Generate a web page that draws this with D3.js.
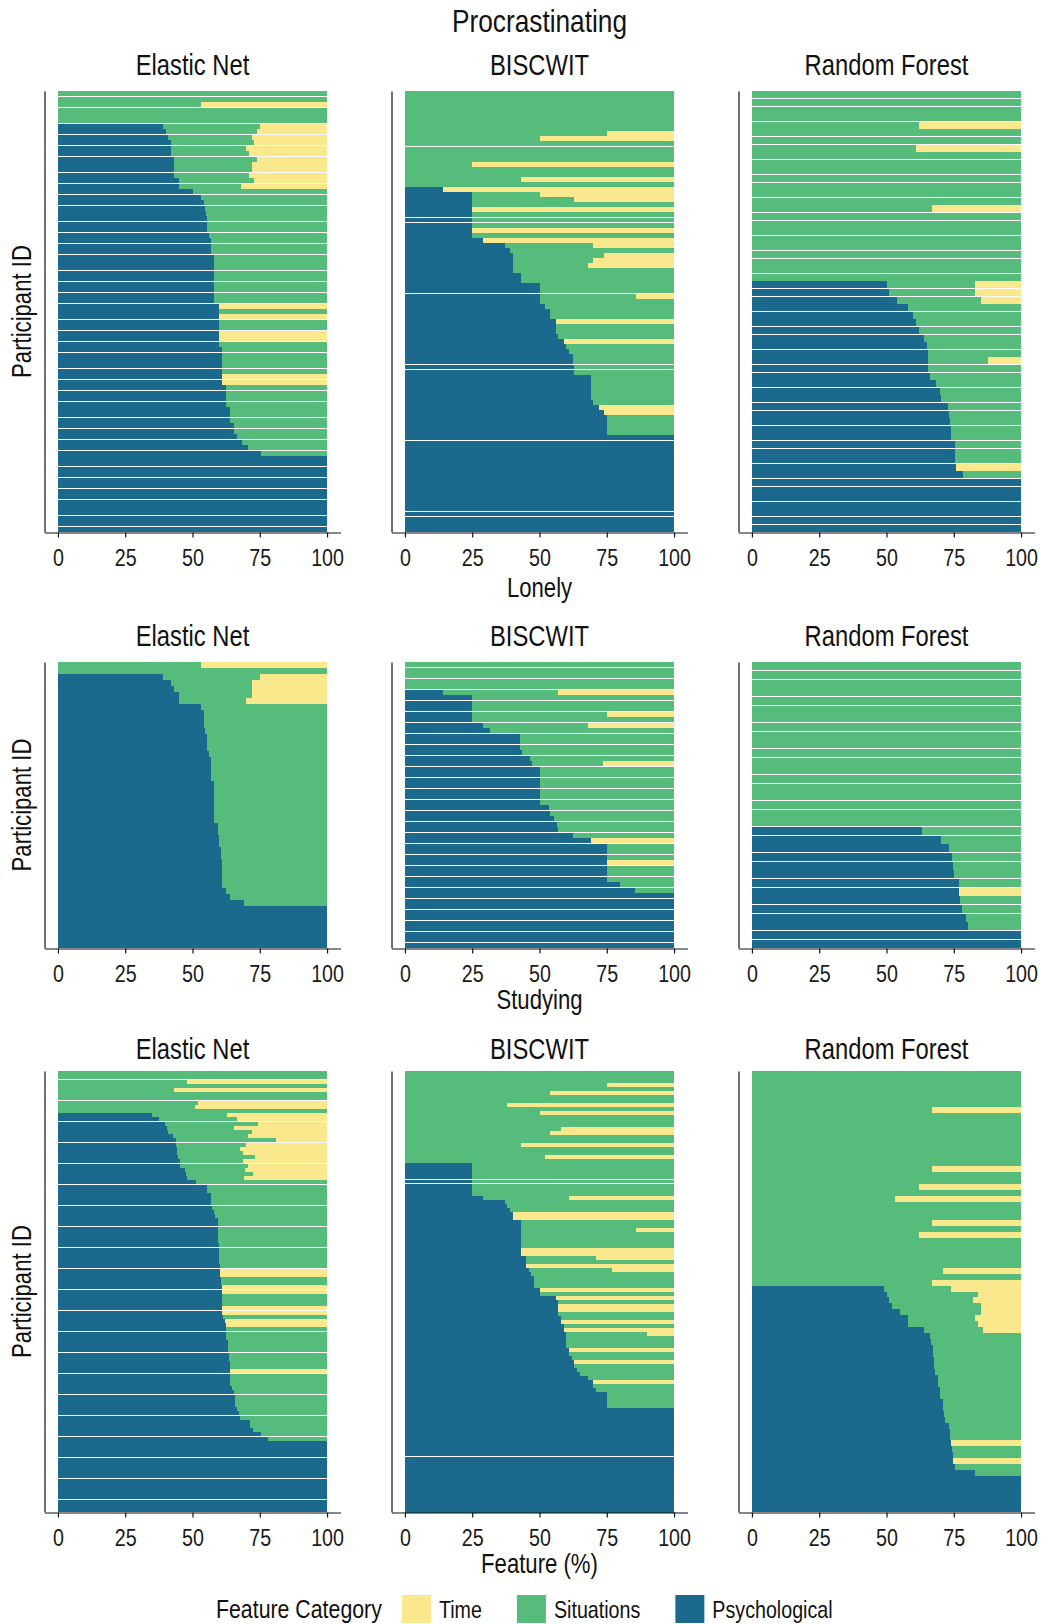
<!DOCTYPE html>
<html>
<head>
<meta charset="utf-8">
<script src="https://cdn.jsdelivr.net/npm/d3@7"></script>
<style>
  body { margin: 0; background: #fff; }
  svg { display: block; font-family: 'Liberation Sans', Arial, sans-serif; }
  .bars rect { shape-rendering: crispEdges; }
  .axis path, .axis line { stroke: #111; stroke-width: 1.2; }
  .axis text { fill: #1a1a1a; font-size: 24px; font-family: inherit; }
</style>
</head>
<body>
<svg id="chart" width="1042" height="1624"></svg>
<script>
// feature shares per participant: [Psychological, Situations, Time] in %
const categories = ['Psychological', 'Situations', 'Time'];
const outcomes = ['Procrastinating', 'Lonely', 'Studying'];
const models = ['Elastic Net', 'BISCWIT', 'Random Forest'];
const xTicks = [0, 25, 50, 75, 100];

const procrastinatingElasticNet = [
  [0,100,0],[0,100,0],[0,53,47],[0,100,0],[0,100,0],[0,100,0],
  [39,36,25],[40,34,26],[41,31,28],[42,31,27],[42,28,30],[42,29,29],
  [43,31,26],[43,29,28],[43,29,28],[43,28,29],[45,28,27],[45,23,32],
  [50,50,0],[53,47,0],[54.3,45.7,0],[54.7,45.3,0],[55.1,44.9,0],[55.5,44.5,0],
  [55.5,44.5,0],[55.5,44.5,0],[56.2,43.8,0],[57,43,0],[57,43,0],[57,43,0],
  [58,42,0],[58,42,0],[58,42,0],[58,42,0],[58,42,0],[58,42,0],[58,42,0],[58,42,0],[58,42,0],
  [60,0,40],[60,40,0],[60,0,40],[60,40,0],[60,40,0],[60,0,40],[60,0,40],[60,40,0],
  [61,39,0],[61,39,0],[61,39,0],[61,39,0],[61,39,0],[61,0,39],[61,0,39],
  [62.5,37.5,0],[62.5,37.5,0],[62.5,37.5,0],[62.5,37.5,0],[64,36,0],[64,36,0],[64,36,0],
  [65.5,34.5,0],[65.5,34.5,0],[66.6,33.4,0],[68.5,31.5,0],[70.7,29.3,0],[75.6,24.4,0],
  [100,0,0],[100,0,0],[100,0,0],[100,0,0],[100,0,0],[100,0,0],[100,0,0],
  [100,0,0],[100,0,0],[100,0,0],[100,0,0],[100,0,0],[100,0,0],[100,0,0]
];

const procrastinatingBiscwit = [
  [0,100,0],[0,100,0],[0,100,0],[0,100,0],[0,100,0],[0,100,0],[0,100,0],[0,100,0],
  [0,75,25],[0,50,50],[0,100,0],[0,100,0],[0,100,0],[0,100,0],[0,25,75],[0,100,0],
  [0,100,0],[0,43,57],[0,100,0],[14,0,86],[25,25,50],[25,38,37],[25,75,0],[25,0,75],
  [25,75,0],[25,75,0],[25,75,0],[25,0,75],[25,75,0],[29,0,71],[37,33,30],[39,61,0],
  [40,34,26],[40,30,30],[40,28,32],[40,60,0],[43,57,0],[43,57,0],[50,50,0],[50,50,0],
  [50,36,14],[50,50,0],[52,48,0],[54,46,0],[54,46,0],[56,0,44],[56,44,0],[56,44,0],
  [57,43,0],[59,0,41],[60,40,0],[61,39,0],[62.5,37.5,0],[62.5,37.5,0],[63,37,0],[63,37,0],
  [69,31,0],[69,31,0],[69,31,0],[69,31,0],[69,31,0],[70,30,0],[72,0,28],[74,0,26],
  [75,25,0],[75,25,0],[75,25,0],[75,25,0],
  [100,0,0],[100,0,0],[100,0,0],[100,0,0],[100,0,0],[100,0,0],[100,0,0],[100,0,0],[100,0,0],[100,0,0],
  [100,0,0],[100,0,0],[100,0,0],[100,0,0],[100,0,0],[100,0,0],[100,0,0],[100,0,0],[100,0,0]
];

const procrastinatingRandomForest = [
  [0,100,0],[0,100,0],[0,100,0],[0,100,0],[0,62,38],[0,100,0],[0,100,0],[0,61,39],
  [0,100,0],[0,100,0],[0,100,0],[0,100,0],[0,100,0],[0,100,0],[0,100,0],[0,67,33],
  [0,100,0],[0,100,0],[0,100,0],[0,100,0],[0,100,0],[0,100,0],[0,100,0],[0,100,0],[0,100,0],
  [50,33,17],[51,32,17],[54,31,15],[58,42,0],[60,40,0],[61,39,0],[62,38,0],[64,36,0],
  [65,35,0],[65.5,34.5,0],[65.5,22.3,12.2],[65.5,34.5,0],[66,34,0],[68.5,31.5,0],[70,30,0],
  [70.3,29.7,0],[73,27,0],[73.3,26.7,0],[73.7,26.3,0],[74,26,0],[74,26,0],[75.6,24.4,0],
  [75.6,24.4,0],[75.6,24.4,0],[76,0,24],[78.5,21.5,0],
  [100,0,0],[100,0,0],[100,0,0],[100,0,0],[100,0,0],[100,0,0],[100,0,0]
];

const lonelyElasticNet = [
  [0,53,47],[0,100,0],[39,36,25],[42,30,28],[43,29,28],[45,27,28],[45,25,30],[53,47,0],
  [54.3,45.7,0],[54.3,45.7,0],[54.3,45.7,0],[54.7,45.3,0],[55.5,44.5,0],[55.5,44.5,0],[55.5,44.5,0],
  [56.2,43.8,0],[56.9,43.1,0],[56.9,43.1,0],[56.9,43.1,0],[56.9,43.1,0],
  [58.1,41.9,0],[58.1,41.9,0],[58.1,41.9,0],[58.1,41.9,0],[58.1,41.9,0],[58.1,41.9,0],[58.1,41.9,0],
  [59.6,40.4,0],[59.6,40.4,0],[59.9,40.1,0],[59.9,40.1,0],[60.7,39.3,0],[60.7,39.3,0],
  [61,39,0],[61,39,0],[61,39,0],[61,39,0],[61,39,0],[62.5,37.5,0],[64,36,0],[69.2,30.8,0],
  [100,0,0],[100,0,0],[100,0,0],[100,0,0],[100,0,0],[100,0,0],[100,0,0]
];

const lonelyBiscwit = [
  [0,100,0],[0,100,0],[0,100,0],[0,100,0],[0,100,0],[14,43,43],[25,75,0],[25,75,0],
  [25,75,0],[25,50,25],[25,75,0],[29,39,32],[31.6,68.4,0],[42.8,57.2,0],[42.8,57.2,0],[42.8,57.2,0],
  [43.5,56.5,0],[46.5,53.5,0],[47.3,26.4,26.3],[50,50,0],[50,50,0],[50,50,0],[50,50,0],[50,50,0],
  [50,50,0],[50,50,0],[53.6,46.4,0],[54,46,0],[55.5,44.5,0],[56.6,43.4,0],[57,43,0],[62.5,37.5,0],
  [69,0,31],[75,25,0],[75,25,0],[75,25,0],[75,0,25],[75,25,0],[75,25,0],[75,25,0],
  [80,20,0],[85.6,14.4,0],
  [100,0,0],[100,0,0],[100,0,0],[100,0,0],[100,0,0],[100,0,0],[100,0,0],[100,0,0],[100,0,0],[100,0,0]
];

const lonelyRandomForest = [
  [0,100,0],[0,100,0],[0,100,0],[0,100,0],[0,100,0],[0,100,0],[0,100,0],[0,100,0],[0,100,0],[0,100,0],
  [0,100,0],[0,100,0],[0,100,0],[0,100,0],[0,100,0],[0,100,0],[0,100,0],[0,100,0],[0,100,0],
  [63.3,36.7,0],[70.3,29.7,0],[73.3,26.7,0],[74.4,25.6,0],[74.8,25.2,0],[75.2,24.8,0],[77,23,0],
  [77,0,23],[77.4,22.6,0],[78.2,21.8,0],[79.7,20.3,0],[80.4,19.6,0],[100,0,0],[100,0,0]
];

const studyingElasticNet = [
  [0,100,0],[0,100,0],[0,48,52],[0,100,0],[0,43,57],[0,100,0],[0,100,0],[0,52,48],[0,51,49],[0,100,0],
  [35,28,37],[37.6,29,33.4],[39.8,34.6,25.6],[40.6,24.9,34.5],[40.9,31.3,27.8],[42.8,27.9,29.3],
  [43.9,37.2,18.9],[43.9,26.1,30],[44.3,23.4,32.3],[44.3,24.6,31.1],[44.7,28.6,26.7],[45.4,23.5,31.1],
  [45.4,25.3,29.3],[47.3,22.3,30.4],[47.6,25,27.4],[48,21.2,30.8],
  [51.4,48.6,0],[55.5,44.5,0],[55.5,44.5,0],[56.9,43.1,0],[56.9,43.1,0],[56.9,43.1,0],[57.3,42.7,0],
  [58.1,41.9,0],[58.4,41.6,0],[59.6,40.4,0],[59.6,40.4,0],[59.6,40.4,0],[59.6,40.4,0],[59.6,40.4,0],
  [59.6,40.4,0],[59.9,40.1,0],[59.9,40.1,0],[59.9,40.1,0],[59.9,40.1,0],[59.9,40.1,0],
  [60.3,39.7,0],[60.3,0,39.7],[60.3,0,39.7],[60.7,39.3,0],[60.7,39.3,0],[61,0,39],[61,0,39],
  [61,39,0],[61,39,0],[61,39,0],[61,0,39],[61,0,39],[61.4,38.6,0],[62.2,0,37.8],[62.5,0,37.5],
  [62.5,37.5,0],[62.5,37.5,0],[62.5,37.5,0],[63.3,36.7,0],[63.3,36.7,0],[63.3,36.7,0],
  [63.6,36.4,0],[63.6,36.4,0],[64,36,0],[64,36,0],[64,0,36],[64,36,0],[64,36,0],[64,36,0],
  [64.8,35.2,0],[65.5,34.5,0],[65.9,34.1,0],[65.9,34.1,0],[65.9,34.1,0],[66.6,33.4,0],
  [67.4,32.6,0],[67.7,32.3,0],[71.5,28.5,0],[71.5,28.5,0],[72.6,27.4,0],[75.6,24.4,0],[78.2,21.8,0],
  [100,0,0],[100,0,0],[100,0,0],[100,0,0],[100,0,0],[100,0,0],[100,0,0],[100,0,0],[100,0,0],
  [100,0,0],[100,0,0],[100,0,0],[100,0,0],[100,0,0],[100,0,0],[100,0,0],[100,0,0]
];

const studyingBiscwit = [
  [0,100,0],[0,100,0],[0,100,0],[0,75,25],[0,100,0],[0,54,46],[0,100,0],[0,100,0],[0,38,62],[0,100,0],
  [0,50,50],[0,100,0],[0,100,0],[0,100,0],[0,58,42],[0,54,46],[0,100,0],[0,100,0],[0,43,57],[0,100,0],
  [0,100,0],[0,52,48],[0,100,0],
  [25,75,0],[25,75,0],[25,75,0],[25,75,0],[25,75,0],[25,75,0],[25,75,0],[25,75,0],
  [29,32,39],[37,63,0],[38,62,0],[39,61,0],[40,0,60],[40,0,60],[43,57,0],[43,57,0],[43,43,14],
  [43,57,0],[43,57,0],[43,57,0],[43,57,0],[43,0,57],[43,0,57],[45,26,29],[45,55,0],[45,0,55],
  [46,31,23],[47,53,0],[48,52,0],[48,52,0],[48,52,0],[50,0,50],[50,50,0],[56,0,44],[57,43,0],
  [57,0,43],[57,0,43],[57,43,0],[58,42,0],[58,0,42],[59,41,0],[59,0,41],[60,30,10],[60,40,0],
  [60,40,0],[60,40,0],[61,0,39],[61,39,0],[62,38,0],[63,0,37],[63,37,0],[64,36,0],[65,35,0],
  [68,32,0],[70,0,30],[70,30,0],[71,29,0],[75,25,0],[75,25,0],[75,25,0],[75,25,0],
  [100,0,0],[100,0,0],[100,0,0],[100,0,0],[100,0,0],[100,0,0],[100,0,0],[100,0,0],[100,0,0],
  [100,0,0],[100,0,0],[100,0,0],[100,0,0],[100,0,0],[100,0,0],[100,0,0],[100,0,0],[100,0,0],
  [100,0,0],[100,0,0],[100,0,0],[100,0,0],[100,0,0],[100,0,0],[100,0,0],[100,0,0]
];

const studyingRandomForest = [
  [0,100,0],[0,100,0],[0,100,0],[0,100,0],[0,100,0],[0,100,0],[0,67,33],
  [0,100,0],[0,100,0],[0,100,0],[0,100,0],[0,100,0],[0,100,0],[0,100,0],[0,100,0],[0,100,0],
  [0,67,33],[0,100,0],[0,100,0],[0,62,38],[0,100,0],[0,53,47],[0,100,0],[0,100,0],[0,100,0],
  [0,67,33],[0,100,0],[0,62,38],[0,100,0],[0,100,0],[0,100,0],[0,100,0],[0,100,0],[0,71,29],
  [0,100,0],[0,67,33],
  [49,25,26],[50,34,16],[51,31,18],[52,33,15],[55,30,15],[58,25,17],[58,26,16],[64,22,14],
  [66,34,0],[66.6,33.4,0],[67.4,32.6,0],[67.4,32.6,0],[67.7,32.3,0],[67.7,32.3,0],[68.2,31.8,0],
  [69.2,30.8,0],[69.2,30.8,0],[70,30,0],[70,30,0],[71.1,28.9,0],[71.1,28.9,0],[71.5,28.5,0],
  [71.8,28.2,0],[73.3,26.7,0],[73.7,26.3,0],[73.7,26.3,0],[74.1,0,25.9],[74.4,25.6,0],
  [74.8,25.2,0],[74.8,0,25.2],[75.6,24.4,0],[83,17,0],
  [100,0,0],[100,0,0],[100,0,0],[100,0,0],[100,0,0],[100,0,0]
];

const grid = [
  [procrastinatingElasticNet, procrastinatingBiscwit, procrastinatingRandomForest],
  [lonelyElasticNet, lonelyBiscwit, lonelyRandomForest],
  [studyingElasticNet, studyingBiscwit, studyingRandomForest]
];

// layout
const svg = d3.select('#chart');
const colLeft = [44.5, 391.5, 738.5];
const panelW = 296;
const rowSpan = [[91, 532], [662, 948], [1071, 1512]];
// vertical extent of the bar stack per panel (sub-pixel tweaks decide where the
// hairline gaps between rows catch a pixel, as in the rasterised original)
const bandSpan = [
  [[91, 532], [90.74, 531.74], [91, 532]],
  [[662, 948], [662, 948], [662, 948]],
  [[1071.1, 1512.1], [1071.1, 1512.7], [1071, 1512]]
];
const rowGap = [[0.08, 0.0145, 0.08], [0, 0.09, 0.08], [0.024, 0.004, 0]];
const modelTitleY = [75, 646, 1059];
const outcomeTitleY = [32, 597, 1009];

const color = d3.scaleOrdinal().domain(categories).range(['#1b698c', '#56bc7b', '#f9e98c']);
const stack = d3.stack().keys(categories);
const squeeze = 0.82;

// the original uses a condensed face; squeeze Liberation Sans to Arial Narrow proportions
function narrow(sel) {
  sel.each(function () {
    const t = d3.select(this);
    const x = +t.attr('x') || 0, y = +t.attr('y') || 0;
    t.attr('transform', `${t.attr('transform') || ''} translate(${x},${y}) scale(${squeeze},1)`)
      .attr('x', null).attr('y', null);
  });
  return sel;
}

grid.forEach((rowPanels, r) => {
  const [top, bottom] = rowSpan[r];

  rowPanels.forEach((rows, c) => {
    const x = d3.scaleLinear().domain([-5, 105]).range([colLeft[c], colLeft[c] + panelW]);
    const y = d3.scaleBand().domain(d3.range(rows.length)).range(bandSpan[r][c])
      .paddingInner(rowGap[r][c]).paddingOuter(rowGap[r][c] / 2);
    const series = stack(rows.map(d => ({Psychological: d[0], Situations: d[1], Time: d[2]})));

    const g = svg.append('g').attr('class', 'bars');
    g.selectAll('g').data(series).join('g')
      .attr('fill', s => color(s.key))
      .selectAll('rect')
      .data(s => s.map((d, i) => ({x0: d[0], x1: d[1], i})).filter(d => d.x1 > d.x0))
      .join('rect')
      .attr('x', d => x(d.x0))
      .attr('width', d => x(d.x1) - x(d.x0))
      .attr('y', d => y(d.i))
      .attr('height', y.bandwidth());

    svg.append('g').attr('class', 'axis')
      .attr('transform', `translate(0,${bottom + 0.5})`)
      .call(d3.axisBottom(x).tickValues(xTicks).tickSize(5).tickSizeOuter(0).tickPadding(11));

    svg.append('g').attr('class', 'axis')
      .attr('transform', `translate(${colLeft[c]},0)`)
      .call(d3.axisLeft(d3.scaleLinear().range([top, bottom])).tickValues([]).tickSizeOuter(0));

    svg.append('text')
      .attr('x', x(50)).attr('y', modelTitleY[r])
      .attr('text-anchor', 'middle').attr('font-size', 29).attr('fill', '#111')
      .text(models[c]);
  });

  svg.append('text')
    .attr('transform', `translate(31,${(top + bottom) / 2}) rotate(-90)`)
    .attr('text-anchor', 'middle').attr('font-size', 27).attr('fill', '#111')
    .text('Participant ID');

  svg.append('text')
    .attr('x', 539.5).attr('y', outcomeTitleY[r])
    .attr('text-anchor', 'middle').attr('font-size', r === 0 ? 32 : 27).attr('fill', '#111')
    .text(outcomes[r]);
});

svg.append('text')
  .attr('x', 539.5).attr('y', 1573)
  .attr('text-anchor', 'middle').attr('font-size', 27).attr('fill', '#111')
  .text('Feature (%)');

narrow(svg.selectAll('text'));

// legend
const legend = svg.append('g').attr('transform', 'translate(216,1595)');
const legendTitle = legend.append('text')
  .attr('y', 23).attr('font-size', 26).attr('fill', '#111')
  .text('Feature Category');
let lx = legendTitle.node().getComputedTextLength() * squeeze + 20;
narrow(legendTitle);
categories.slice().reverse().forEach(key => {
  legend.append('rect').attr('x', lx).attr('y', 0).attr('width', 29).attr('height', 28).attr('fill', color(key));
  const t = legend.append('text').attr('x', lx + 37).attr('y', 23)
    .attr('font-size', 24).attr('fill', '#111').text(key);
  lx += 37 + t.node().getComputedTextLength() * squeeze + 35;
  narrow(t);
});
</script>
</body>
</html>
